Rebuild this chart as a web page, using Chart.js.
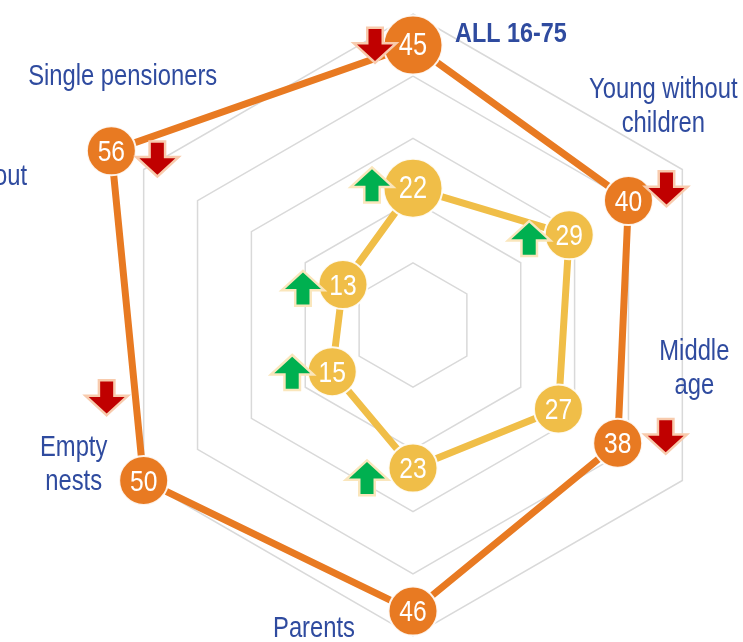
<!DOCTYPE html>
<html>
<head>
<meta charset="utf-8">
<script src="https://cdn.jsdelivr.net/npm/chart.js@4"></script>
<style>
  body { margin: 0; background: #fff; }
  #myChart { display: block; }
</style>
</head>
<body>
<canvas id="myChart" width="743" height="642"></canvas>
<script>
// data
const categories = [['ALL 16-75'], ['Young without', 'children'], ['Middle', 'age'], ['Parents'], ['Empty', 'nests'], ['Single pensioners']];
const outerValues = [45, 40, 38, 46, 50, 56];
const innerValues = [22, 29, 27, 23, 15, 13];
const outerTrend = ['down', 'down', 'down', null, 'down', 'down'];
const innerTrend = ['up', 'up', null, 'up', 'up', 'up'];
const scaleMin = 0;
const scaleMax = 50;
const scaleStep = 10;

const ORANGE = '#E87A22';
const YELLOW = '#F0BE48';
const BLUE = '#2F4B9F';
const FONT = '"Liberation Sans", Arial, sans-serif';
const SQUEEZE = 0.82; // no narrow face installed, so squeeze the regular one

// arrow placement relative to its point: [dx, dy]
const arrowOffsets = [
    [[-38, 0], [38, -12], [48, -7], null, [-37, -83], [46, 8]],
    [[-41, -3], [-40, 4], null, [-46, 10], [-40, 1], [-40, 4]]
];
// category label placement relative to the outer ring vertex
const labelPlace = [
    { dx: 42, dy: 28, align: 'left', bold: true },
    { dx: -19, dy: -71.5, align: 'center' },
    { dx: 12, dy: -120.5, align: 'center' },
    { dx: -99, dy: 1, align: 'center' },
    { dx: -70, dy: -24.5, align: 'center' },
    { dx: -21, dy: -84.5, align: 'center' }
];

function narrowText(ctx, text, x, y) {
    ctx.save();
    ctx.translate(x, y);
    ctx.scale(SQUEEZE, 1);
    ctx.fillText(text, 0, 0);
    ctx.restore();
}

function drawArrow(ctx, cx, cy, dir, fill, edge) {
    const s = dir === 'up' ? 1 : -1;
    const half = 16, headW = 18, bodyW = 6.5;
    ctx.save();
    ctx.beginPath();
    ctx.moveTo(cx, cy - s * half);
    ctx.lineTo(cx + headW, cy + s * 0.5);
    ctx.lineTo(cx + bodyW, cy + s * 0.5);
    ctx.lineTo(cx + bodyW, cy + s * half);
    ctx.lineTo(cx - bodyW, cy + s * half);
    ctx.lineTo(cx - bodyW, cy + s * 0.5);
    ctx.lineTo(cx - headW, cy + s * 0.5);
    ctx.closePath();
    ctx.lineJoin = 'miter';
    ctx.lineWidth = 5;
    ctx.strokeStyle = edge;
    ctx.stroke();
    ctx.fillStyle = fill;
    ctx.fill();
    ctx.restore();
}

const trendArrows = {
    id: 'trendArrows',
    afterDatasetsDraw(chart) {
        const ctx = chart.ctx;
        const trends = [outerTrend, innerTrend];
        trends.forEach((list, di) => {
            const meta = chart.getDatasetMeta(di);
            list.forEach((t, i) => {
                if (!t) return;
                const pt = meta.data[i];
                const off = arrowOffsets[di][i];
                if (t === 'up') drawArrow(ctx, pt.x + off[0], pt.y + off[1], 'up', '#00B050', '#FAE6BC');
                else drawArrow(ctx, pt.x + off[0], pt.y + off[1], 'down', '#C00000', '#F8CBAD');
            });
        });
    }
};

const valueLabels = {
    id: 'valueLabels',
    afterDatasetsDraw(chart) {
        const ctx = chart.ctx;
        ctx.save();
        ctx.fillStyle = '#fff';
        ctx.textAlign = 'center';
        ctx.textBaseline = 'alphabetic';
        chart.data.datasets.forEach((ds, di) => {
            const meta = chart.getDatasetMeta(di);
            ds.data.forEach((v, i) => {
                const pt = meta.data[i];
                ctx.font = (i === 0 ? 31 : 30) + 'px ' + FONT;
                narrowText(ctx, String(v), pt.x, pt.y + 10);
            });
        });
        ctx.restore();
    }
};

const categoryLabels = {
    id: 'categoryLabels',
    afterDraw(chart) {
        const ctx = chart.ctx;
        const r = chart.scales.r;
        ctx.save();
        ctx.fillStyle = BLUE;
        ctx.textBaseline = 'alphabetic';
        categories.forEach((lines, i) => {
            const p = r.getPointPositionForValue(i, scaleMax);
            const place = labelPlace[i];
            ctx.textAlign = place.align;
            ctx.font = (place.bold ? 'bold 28.5px ' : '29px ') + FONT;
            lines.forEach((line, k) => {
                narrowText(ctx, line, p.x + place.dx, p.y + place.dy + k * 34);
            });
        });
        // neighbouring chart's label cut by the left edge
        ctx.textAlign = 'right';
        ctx.font = '29px ' + FONT;
        narrowText(ctx, 'without', 27, 185);
        ctx.restore();
    }
};

new Chart(document.getElementById('myChart'), {
    type: 'radar',
    data: {
        labels: categories,
        datasets: [{
            data: outerValues,
            borderColor: ORANGE,
            backgroundColor: 'transparent',
            borderWidth: 7,
            pointBackgroundColor: ORANGE,
            pointBorderColor: 'rgba(255,255,255,0.9)',
            pointBorderWidth: 2,
            pointRadius: outerValues.map((v, i) => i === 0 ? 29.5 : 24.5),
            fill: false,
            clip: false
        }, {
            data: innerValues,
            borderColor: YELLOW,
            backgroundColor: 'transparent',
            borderWidth: 7,
            pointBackgroundColor: YELLOW,
            pointBorderColor: 'rgba(255,255,255,0.9)',
            pointBorderWidth: 2,
            pointRadius: innerValues.map((v, i) => i === 0 ? 29.5 : 24.5),
            fill: false,
            clip: false
        }]
    },
    options: {
        responsive: false,
        animation: false,
        events: [],
        layout: { padding: { left: 100, right: 17, top: 14, bottom: 6 } },
        plugins: {
            legend: { display: false },
            tooltip: { enabled: false }
        },
        scales: {
            r: {
                min: scaleMin,
                max: scaleMax,
                ticks: { display: false, stepSize: scaleStep },
                grid: { color: '#d9d9d9', lineWidth: 1.5 },
                angleLines: { display: false },
                pointLabels: { display: false }
            }
        }
    },
    plugins: [trendArrows, valueLabels, categoryLabels]
});
</script>
</body>
</html>
